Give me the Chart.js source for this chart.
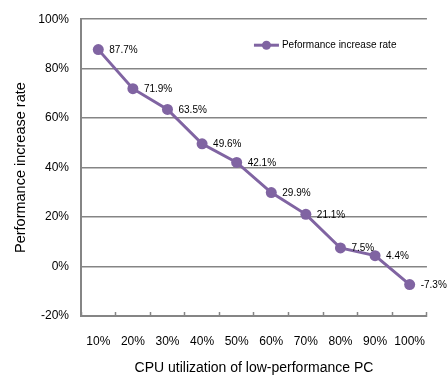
<!DOCTYPE html>
<html>
<head>
<meta charset="utf-8">
<script src="https://cdn.jsdelivr.net/npm/chart.js@4/dist/chart.umd.min.js"></script>
<style>
  html, body { margin: 0; padding: 0; background: #ffffff; }
  #wrap { width: 448px; height: 378px; }
</style>
</head>
<body>
<div id="wrap"><canvas id="chart" width="448" height="378"></canvas></div>
<script>
// CPU utilization of the low-performance PC (x categories)
const categories = ['10%', '20%', '30%', '40%', '50%', '60%', '70%', '80%', '90%', '100%'];
// Performance increase rate, in percent
const increaseRate = [87.7, 71.9, 63.5, 49.6, 42.1, 29.9, 21.1, 7.5, 4.4, -7.3];
const seriesName = 'Peformance increase rate';
// Y axis range and step
const yMin = -20;
const yMax = 100;
const yStep = 20;

const PURPLE = '#8064A2';
const GRID = '#858585';
const FONT = "'Liberation Sans', Arial, sans-serif";

// Value labels beside each point
const valueLabels = {
  id: 'valueLabels',
  afterDatasetsDraw(chart) {
    const ctx = chart.ctx;
    const meta = chart.getDatasetMeta(0);
    const data = chart.data.datasets[0].data;
    ctx.save();
    ctx.font = '10px ' + FONT;
    ctx.fillStyle = '#000000';
    ctx.textAlign = 'left';
    ctx.textBaseline = 'middle';
    meta.data.forEach((pt, i) => {
      ctx.fillText(data[i].toFixed(1) + '%', pt.x + 11, pt.y + 0.5);
    });
    ctx.restore();
  }
};

// Legend entry drawn inside the plot area, top right
const innerLegend = {
  id: 'innerLegend',
  afterDraw(chart) {
    const ctx = chart.ctx;
    const area = chart.chartArea;
    const x0 = area.right - 173;
    const y0 = area.top + 26;
    ctx.save();
    ctx.strokeStyle = PURPLE;
    ctx.lineWidth = 3;
    ctx.beginPath();
    ctx.moveTo(x0, y0);
    ctx.lineTo(x0 + 25, y0);
    ctx.stroke();
    ctx.fillStyle = PURPLE;
    ctx.beginPath();
    ctx.arc(x0 + 12.5, y0, 4.5, 0, Math.PI * 2);
    ctx.fill();
    ctx.fillStyle = '#000000';
    ctx.font = '10px ' + FONT;
    ctx.textAlign = 'left';
    ctx.textBaseline = 'middle';
    ctx.fillText(chart.data.datasets[0].label, x0 + 28, y0);
    ctx.restore();
  }
};

new Chart(document.getElementById('chart'), {
  type: 'line',
  data: {
    labels: categories,
    datasets: [{
      label: seriesName,
      data: increaseRate,
      borderColor: PURPLE,
      backgroundColor: PURPLE,
      borderWidth: 3,
      pointRadius: 5.5,
      pointHoverRadius: 5.5,
      pointBackgroundColor: PURPLE,
      pointBorderWidth: 0,
      tension: 0
    }]
  },
  options: {
    responsive: false,
    animation: false,
    layout: { padding: { top: 16, right: 20, left: 0, bottom: 0 } },
    plugins: {
      legend: { display: false },
      tooltip: { enabled: false }
    },
    scales: {
      x: {
        type: 'category',
        offset: true,
        afterFit(scale) { scale.height = 62; },
        grid: {
          offset: true,
          drawOnChartArea: false,
          drawTicks: true,
          tickLength: -4,
          tickWidth: 1.5,
          tickColor: GRID
        },
        border: { display: true, color: GRID, width: 2 },
        ticks: {
          color: '#000000',
          font: { family: FONT, size: 12 },
          padding: 22,
          maxRotation: 0,
          autoSkip: false
        },
        title: {
          display: true,
          text: 'CPU utilization of low-performance PC',
          color: '#000000',
          font: { family: FONT, size: 14 },
          padding: { top: 0, bottom: 1 }
        }
      },
      y: {
        min: yMin,
        max: yMax,
        afterFit(scale) { scale.width = 81; },
        grid: {
          color: GRID,
          lineWidth: 1.5,
          drawTicks: false
        },
        border: { display: true, color: GRID, width: 2 },
        ticks: {
          stepSize: yStep,
          color: '#000000',
          font: { family: FONT, size: 12 },
          padding: 12,
          callback: (v) => v + '%'
        },
        title: {
          display: true,
          text: 'Performance increase rate',
          color: '#000000',
          font: { family: FONT, size: 14.5 },
          padding: { top: 12, bottom: 0 }
        }
      }
    }
  },
  plugins: [valueLabels, innerLegend]
});
</script>
</body>
</html>
